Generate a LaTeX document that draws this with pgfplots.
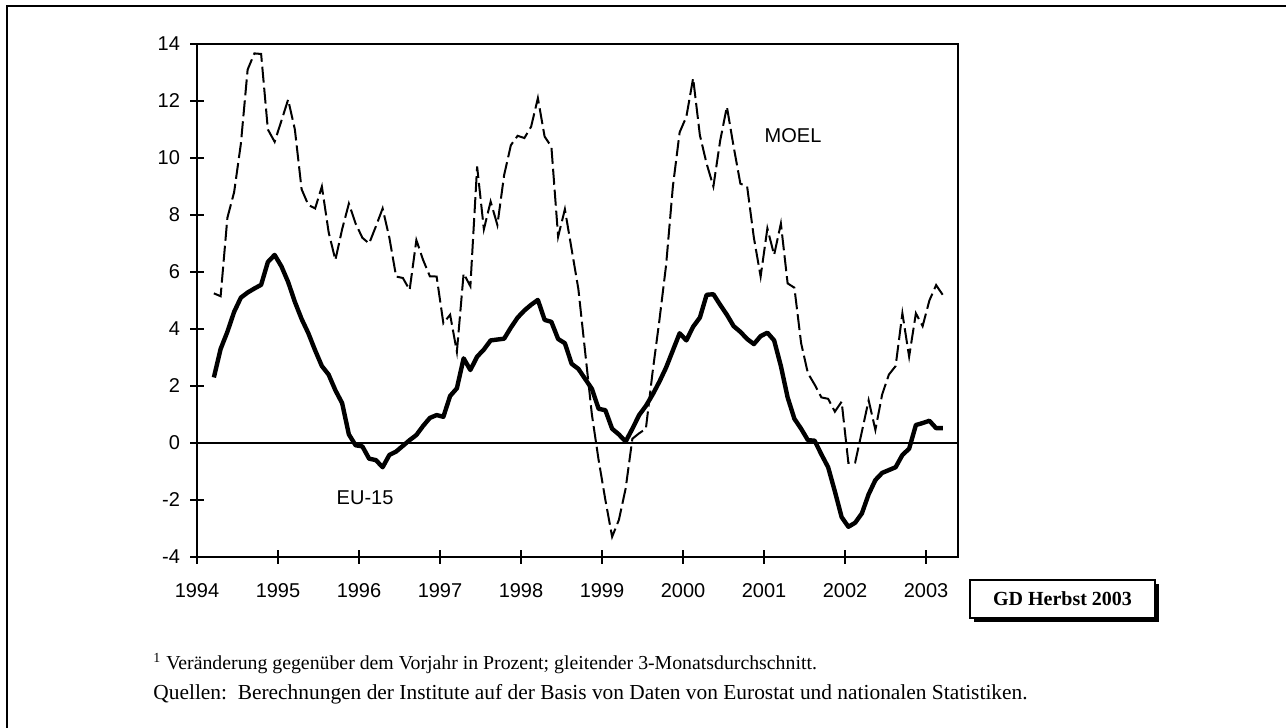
\documentclass[border=0pt]{standalone}
\usepackage{fontspec}
\setmainfont{Liberation Sans}
\newfontfamily\timesfont{Liberation Serif}
\usepackage{pgfplots}
\pgfplotsset{compat=1.18}
\begin{document}
\begin{tikzpicture}
\useasboundingbox (0,0) rectangle (643pt,364pt);
\fill[white] (0,0) rectangle (643pt,364pt);
\draw[line width=1pt] (3.5pt,0) -- (3.5pt,361pt) -- (643pt,361pt);
\begin{axis}[
  at={(98.5pt,85.5pt)}, anchor=south west,
  scale only axis, width=380.5pt, height=256.5pt,
  xmin=0, xmax=112.74, ymin=-4, ymax=14,
  xtick={0,12,...,108},
  xticklabels={1994,1995,1996,1997,1998,1999,2000,2001,2002,2003},
  ytick={-4,-2,...,14},
  xtick pos=bottom, ytick pos=left,
  tick align=center, major tick length=7pt,
  tick style={black, line width=0.9pt},
  axis line style={line width=1.1pt},
  /pgf/number format/assume math mode=true,
  tick label style={font=\fontsize{10}{12}\selectfont},
  xticklabel style={yshift=-6pt},
  yticklabel style={xshift=-1.5pt},
  clip=false,
]
\addplot[black, line width=0.7pt] coordinates {(0,0) (112.74,0)};
\addplot[black, line width=1pt, dash pattern=on 8pt off 2.5pt] coordinates {
(2.5,5.25) (3.5,5.15) (4.5,7.9) (5.5,8.8) (6.5,10.5) (7.5,13.1) (8.5,13.67) (9.5,13.65)
(10.5,11.0) (11.5,10.57) (12.5,11.3) (13.5,12.05) (14.5,11.0) (15.5,8.9) (16.5,8.35) (17.5,8.23)
(18.5,9.0) (19.5,7.4) (20.5,6.42) (21.5,7.5) (22.5,8.4) (23.5,7.7) (24.5,7.2) (25.5,7.0)
(26.5,7.6) (27.5,8.23) (28.5,7.2) (29.5,5.84) (30.5,5.79) (31.5,5.37) (32.5,7.12) (33.5,6.42)
(34.5,5.85) (35.5,5.84) (36.5,4.2) (37.5,4.5) (38.5,3.2) (39.5,5.95) (40.5,5.5) (41.5,9.7)
(42.5,7.5) (43.5,8.47) (44.5,7.65) (45.5,9.4) (46.5,10.45) (47.5,10.78) (48.5,10.7) (49.5,11.1)
(50.5,12.1) (51.5,10.75) (52.5,10.4) (53.5,7.24) (54.5,8.2) (55.5,6.8) (56.5,5.4) (57.5,3.2)
(58.5,1.0) (59.5,-0.6) (60.5,-2.0) (61.5,-3.29) (62.5,-2.7) (63.5,-1.6) (64.5,0.15) (65.5,0.34)
(66.5,0.5) (67.5,2.5) (68.5,4.3) (69.5,6.25) (70.5,9.0) (71.5,10.9) (72.5,11.45) (73.5,12.8)
(74.5,10.8) (75.5,9.8) (76.5,9.0) (77.5,10.6) (78.5,11.8) (79.5,10.4) (80.5,9.1) (81.5,9.0)
(82.5,7.2) (83.5,5.84) (84.5,7.53) (85.5,6.6) (86.5,7.7) (87.5,5.6) (88.5,5.45) (89.5,3.5)
(90.5,2.45) (91.5,2.05) (92.5,1.6) (93.5,1.55) (94.5,1.1) (95.5,1.45) (96.5,-0.7) (97.5,-0.69)
(98.5,0.4) (99.5,1.5) (100.5,0.46) (101.5,1.7) (102.5,2.4) (103.5,2.7) (104.5,4.55) (105.5,3.03)
(106.5,4.55) (107.5,4.1) (108.5,5.0) (109.5,5.54) (110.5,5.19)
};
\addplot[black, line width=2.2pt, line join=round] coordinates {
(2.5,2.3) (3.5,3.3) (4.5,3.9) (5.5,4.6) (6.5,5.1) (7.5,5.28) (8.5,5.42) (9.5,5.55)
(10.5,6.35) (11.5,6.6) (12.5,6.2) (13.5,5.65) (14.5,4.95) (15.5,4.35) (16.5,3.85) (17.5,3.25)
(18.5,2.7) (19.5,2.4) (20.5,1.85) (21.5,1.4) (22.5,0.3) (23.5,-0.08) (24.5,-0.12) (25.5,-0.55)
(26.5,-0.6) (27.5,-0.85) (28.5,-0.42) (29.5,-0.3) (30.5,-0.1) (31.5,0.1) (32.5,0.28) (33.5,0.6)
(34.5,0.88) (35.5,0.98) (36.5,0.92) (37.5,1.65) (38.5,1.92) (39.5,2.97) (40.5,2.56) (41.5,3.03)
(42.5,3.28) (43.5,3.6) (44.5,3.63) (45.5,3.66) (46.5,4.05) (47.5,4.4) (48.5,4.65) (49.5,4.85)
(50.5,5.02) (51.5,4.32) (52.5,4.25) (53.5,3.65) (54.5,3.5) (55.5,2.78) (56.5,2.6) (57.5,2.25)
(58.5,1.9) (59.5,1.2) (60.5,1.15) (61.5,0.5) (62.5,0.3) (63.5,0.05) (64.5,0.5) (65.5,0.98)
(66.5,1.3) (67.5,1.7) (68.5,2.15) (69.5,2.65) (70.5,3.25) (71.5,3.85) (72.5,3.6) (73.5,4.08)
(74.5,4.4) (75.5,5.2) (76.5,5.22) (77.5,4.85) (78.5,4.5) (79.5,4.1) (80.5,3.9) (81.5,3.65)
(82.5,3.47) (83.5,3.75) (84.5,3.87) (85.5,3.6) (86.5,2.7) (87.5,1.6) (88.5,0.85) (89.5,0.5)
(90.5,0.1) (91.5,0.08) (92.5,-0.4) (93.5,-0.85) (94.5,-1.7) (95.5,-2.6) (96.5,-2.94) (97.5,-2.8)
(98.5,-2.47) (99.5,-1.8) (100.5,-1.3) (101.5,-1.05) (102.5,-0.95) (103.5,-0.85) (104.5,-0.42) (105.5,-0.2)
(106.5,0.63) (107.5,0.7) (108.5,0.78) (109.5,0.52) (110.5,0.52)
};
\node[font=\fontsize{10}{12}\selectfont] at (axis cs:88.3,10.8) {MOEL};
\node[font=\fontsize{10}{12}\selectfont] at (axis cs:24.9,-1.93) {EU-15};
\end{axis}
\fill[black] (487pt,53pt) rectangle (579.5pt,72pt);
\draw[line width=0.6pt, fill=white] (485pt,55pt) rectangle (577.5pt,74pt);
\node[font=\timesfont\bfseries\fontsize{10}{12}\selectfont] at (531.25pt,64.5pt) {GD Herbst 2003};
\node[anchor=base west, inner sep=0pt, font=\timesfont\fontsize{9.9}{11}\selectfont] at (76.5pt,29pt) {\textsuperscript{1} Veränderung gegenüber dem Vorjahr in Prozent; gleitender 3-Monatsdurchschnitt.};
\node[anchor=base west, inner sep=0pt, font=\timesfont\fontsize{10.7}{12}\selectfont] at (76.5pt,14pt) {Quellen:\ \ Berechnungen der Institute auf der Basis von Daten von Eurostat und nationalen Statistiken.};
\end{tikzpicture}
\end{document}
